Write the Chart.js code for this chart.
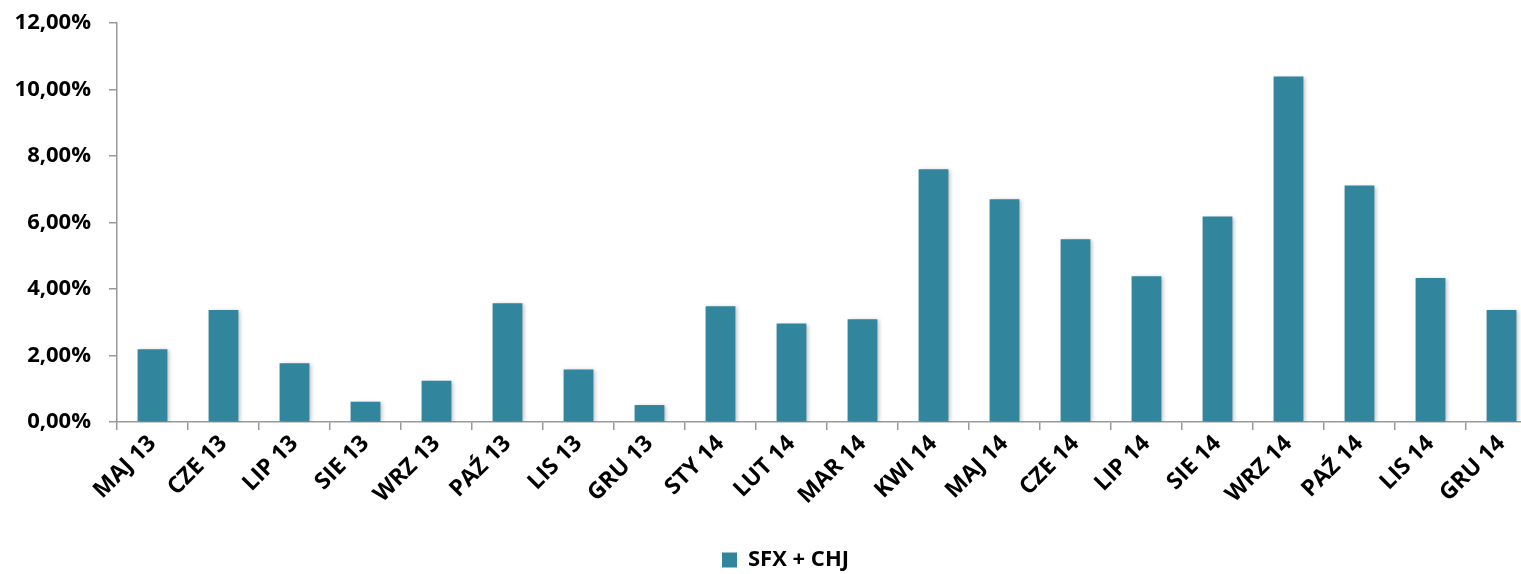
<!DOCTYPE html>
<html>
<head>
<meta charset="utf-8">
<script src="https://cdn.jsdelivr.net/npm/chart.js@4"></script>
<style>
    html, body { margin: 0; padding: 0; background: #ffffff; overflow: hidden; }
    #wrap { width: 1570px; height: 581px; }
</style>
</head>
<body>
<div id="wrap"><canvas id="barChart" width="1570" height="581"></canvas></div>
<script>
const categories = ['MAJ 13', 'CZE 13', 'LIP 13', 'SIE 13', 'WRZ 13', 'PAŹ 13', 'LIS 13', 'GRU 13',
    'STY 14', 'LUT 14', 'MAR 14', 'KWI 14', 'MAJ 14', 'CZE 14', 'LIP 14', 'SIE 14',
    'WRZ 14', 'PAŹ 14', 'LIS 14', 'GRU 14'];
const seriesName = 'SFX + CHJ';
const seriesValues = [2.19, 3.37, 1.77, 0.61, 1.24, 3.57, 1.58, 0.51,
    3.48, 2.96, 3.09, 7.60, 6.70, 5.50, 4.38, 6.18,
    10.39, 7.11, 4.33, 3.37];
const yTicks = [0, 2, 4, 6, 8, 10, 12];

const fontFamily = '"Open Sans", "DejaVu Sans", sans-serif';
const axisGrey = '#9a9a9a';

// soft shadow behind the bars, like the original
const barShadow = {
    id: 'barShadow',
    beforeDatasetsDraw(chart) {
        const ctx = chart.ctx;
        ctx.save();
        ctx.shadowColor = 'rgba(0, 0, 0, 0.25)';
        ctx.shadowBlur = 4;
        ctx.shadowOffsetX = 2;
        ctx.shadowOffsetY = 1;
    },
    afterDatasetsDraw(chart) {
        chart.ctx.restore();
    }
};

// the legend sits a bit right of the plot centre in the original
const legendShift = {
    id: 'legendShift',
    afterLayout(chart) {
        chart.legend.left += 17;
        chart.legend.right += 17;
    }
};

const ctx = document.getElementById('barChart').getContext('2d');
new Chart(ctx, {
    type: 'bar',
    data: {
        labels: categories,
        datasets: [{
            label: seriesName,
            data: seriesValues,
            backgroundColor: '#31859c',
            borderWidth: 0,
            categoryPercentage: 1,
            barPercentage: 0.42
        }]
    },
    options: {
        responsive: false,
        animation: false,
        layout: {
            padding: { top: 23, right: 33, bottom: 0, left: 0 }
        },
        plugins: {
            tooltip: { enabled: false },
            legend: {
                position: 'bottom',
                labels: {
                    color: '#000000',
                    boxWidth: 15,
                    boxHeight: 15,
                    padding: 8,
                    font: { family: fontFamily, size: 22, weight: 'bold' }
                }
            }
        },
        scales: {
            x: {
                afterFit(scale) { scale.height = 119; },
                grid: {
                    display: true,
                    drawOnChartArea: false,
                    offset: true,
                    color: axisGrey,
                    lineWidth: 1.5,
                    tickLength: 8
                },
                border: { display: true, color: axisGrey, width: 1.5 },
                ticks: {
                    color: '#000000',
                    minRotation: 45,
                    maxRotation: 45,
                    autoSkip: false,
                    padding: 0,
                    font: { family: fontFamily, size: 23, weight: 'bold' }
                }
            },
            y: {
                min: 0,
                max: 12,
                afterFit(scale) {
                    scale.width = 117;
                    scale.paddingTop = 0;
                    scale.paddingBottom = 0;
                },
                afterBuildTicks(scale) {
                    scale.ticks = yTicks.map(v => ({ value: v }));
                },
                grid: {
                    display: true,
                    drawOnChartArea: false,
                    color: axisGrey,
                    lineWidth: 1.5,
                    tickLength: 8
                },
                border: { display: true, color: axisGrey, width: 1.5 },
                ticks: {
                    color: '#000000',
                    padding: 18,
                    font: { family: fontFamily, size: 22, weight: 'bold' },
                    callback: function(value) {
                        return value.toFixed(2).replace('.', ',') + '%';
                    }
                }
            }
        }
    },
    plugins: [barShadow, legendShift]
});
</script>
</body>
</html>
